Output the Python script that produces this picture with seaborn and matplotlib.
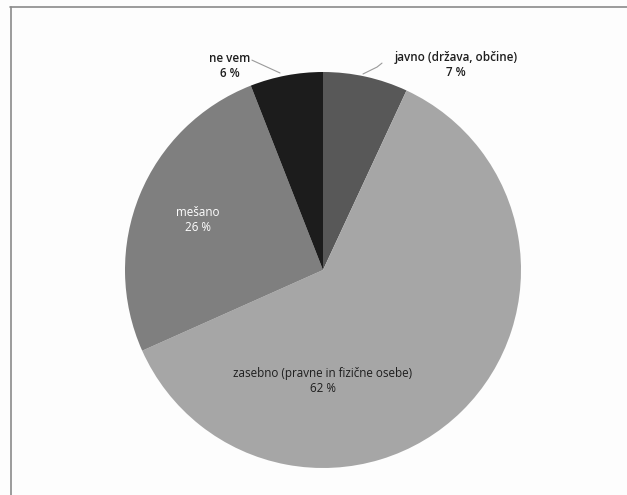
import matplotlib
matplotlib.use("Agg")
import matplotlib.pyplot as plt
from matplotlib.lines import Line2D
import seaborn as sns

categories = ["javno (država, občine)", "zasebno (pravne in fizične osebe)", "mešano", "ne vem"]
values = [7, 62, 26, 6]
pct_labels = ["7 %", "62 %", "26 %", "6 %"]
colors = ["#585858", "#a6a6a6", "#7f7f7f", "#1c1c1c"]

sns.set_theme(style="white")
plt.rcParams["font.family"] = ["Open Sans", "DejaVu Sans"]

W, H = 627, 495
fig = plt.figure(figsize=(W / 100, H / 100), dpi=100, facecolor="#fdfdfd")
ax = fig.add_axes([0, 0, 1, 1])
ax.set_facecolor("#fdfdfd")

cx, cy, R = 323, 270, 198
wedges, _ = ax.pie(values, colors=colors, startangle=90, counterclock=False,
                   wedgeprops=dict(linewidth=0))
ax.set_aspect("auto")
ax.set_xlim(-cx / R, (W - cx) / R)
ax.set_ylim(-(H - cy) / R, cy / R)
ax.axis("off")

fs = 8.4
txt = "#1e1e1e"
# outside labels
ax.text(0.672, 1.033, f"{categories[0]}\n{pct_labels[0]}", ha="center", va="center",
        fontsize=fs, color=txt, linespacing=1.2, fontweight="semibold")
ax.text(-0.47, 1.028, f"{categories[3]}\n{pct_labels[3]}", ha="center", va="center",
        fontsize=fs, color=txt, linespacing=1.2, fontweight="semibold")
# inside labels
ax.text(-0.631, 0.253, f"{categories[2]}\n{pct_labels[2]}", ha="center", va="center",
        fontsize=fs, color="white", linespacing=1.2)
ax.text(0.0, -0.56, f"{categories[1]}\n{pct_labels[1]}", ha="center", va="center",
        fontsize=fs, color=txt, linespacing=1.2)

# leader lines
ax.plot([-0.359, -0.217], [1.06, 0.995], color="#9a9a9a", lw=0.8)
ax.plot([0.202, 0.273, 0.298], [0.99, 1.025, 1.045], color="#9a9a9a", lw=0.8)

# frame lines (top and left)
fig.add_artist(Line2D([10 / W, 1], [1 - 6.5 / H, 1 - 6.5 / H], transform=fig.transFigure,
                      color="#8a8a8a", lw=1.2))
fig.add_artist(Line2D([11 / W, 11 / W], [0, 1 - 6.5 / H], transform=fig.transFigure,
                      color="#8a8a8a", lw=1.2))

fig.savefig("out.png", dpi=100, facecolor=fig.get_facecolor())
